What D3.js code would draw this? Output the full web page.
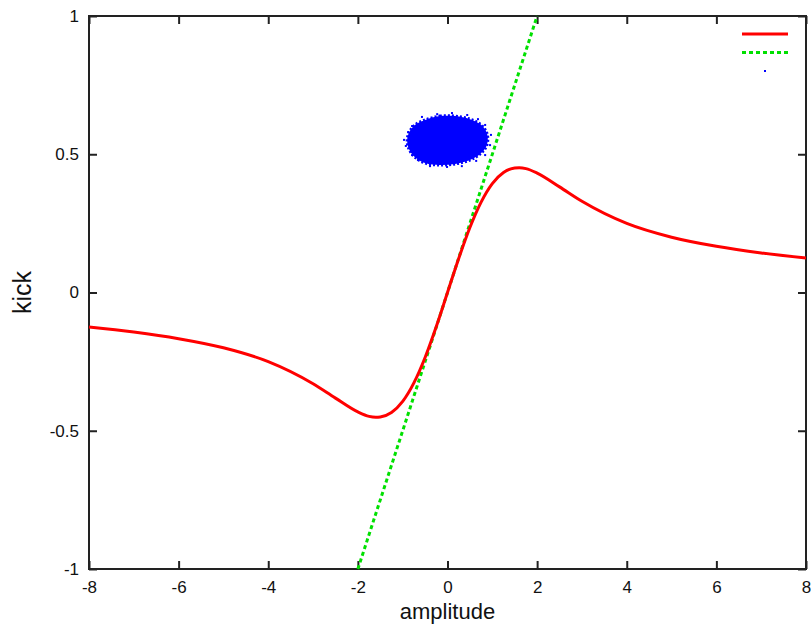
<!DOCTYPE html>
<html>
<head>
<meta charset="utf-8">
<script src="https://cdn.jsdelivr.net/npm/d3@7"></script>
<style>
  body { margin: 0; background: #fff; }
  text { font-family: "Liberation Sans", Arial, sans-serif; fill: #111; }
  .axis path { display: none; }
  .axis line { stroke: #222; stroke-width: 2; }
</style>
</head>
<body>
<div id="chart"></div>
<script>
// values
var xTicks = [-8, -6, -4, -2, 0, 2, 4, 6, 8];
var yTicks = [-1, -0.5, 0, 0.5, 1];

// red curve (kick vs amplitude)
var kickX = [-8, -7, -6, -5, -4, -3, -2.5, -2, -1.75, -1.6, -1.5, -1.25, -1, -0.75, -0.5, -0.25, 0,
             0.25, 0.5, 0.75, 1, 1.25, 1.5, 1.6, 1.75, 2, 2.5, 3, 4, 5, 6, 7, 8];
var kickY = [-0.125, -0.143, -0.167, -0.2, -0.25, -0.33, -0.382, -0.432, -0.448, -0.451, -0.45, -0.434, -0.394, -0.327, -0.235, -0.123, 0,
             0.123, 0.235, 0.327, 0.394, 0.434, 0.45, 0.451, 0.448, 0.432, 0.382, 0.33, 0.25, 0.2, 0.167, 0.143, 0.125];

// green dashed line (linear kick)
var linX = [-2, 2];
var linY = [-1, 1];

// blue particle cloud: outline of the dense core
var cloudX = [-0.50, -0.17, 0.17, 0.50, 0.73, 0.86, 0.90, 0.86, 0.73, 0.50, 0.17, -0.17, -0.50, -0.73, -0.86, -0.90, -0.84, -0.70];
var cloudY = [0.624, 0.638, 0.638, 0.627, 0.609, 0.584, 0.555, 0.526, 0.501, 0.479, 0.465, 0.461, 0.468, 0.490, 0.519, 0.552, 0.584, 0.609];
// stray particles around the edge
var strayX = [-0.97, -0.93, -0.79, -0.66, -0.39, -0.01, 0.32, 0.64, 0.84, 0.95, 0.97, 0.84, 0.68, 0.44, 0.10, -0.23, -0.57, -0.79, -0.88];
var strayY = [0.552, 0.530, 0.497, 0.479, 0.457, 0.454, 0.457, 0.476, 0.497, 0.533, 0.570, 0.606, 0.627, 0.642, 0.649, 0.645, 0.635, 0.602, 0.580];

var svg = d3.select("#chart").append("svg").attr("width", 811).attr("height", 626),
    margin = {top: 16, right: 5, bottom: 57, left: 89},
    width = +svg.attr("width") - margin.left - margin.right,
    height = +svg.attr("height") - margin.top - margin.bottom;

var x = d3.scaleLinear().domain([-8, 8]).range([0, width]);
var y = d3.scaleLinear().domain([-1, 1]).range([height, 0]);

var g = svg.append("g")
    .attr("transform", "translate(" + margin.left + "," + margin.top + ")");

var fmt = function(d) { return String(d); };

g.append("g")
    .attr("class", "axis")
    .attr("transform", "translate(0," + height + ")")
    .call(d3.axisBottom(x).tickValues(xTicks).tickFormat(fmt).tickSizeInner(-8).tickPadding(12))
    .selectAll("text").style("font-size", "17px");

g.append("g")
    .attr("class", "axis")
    .call(d3.axisTop(x).tickValues(xTicks).tickFormat("").tickSizeInner(-8));

g.append("g")
    .attr("class", "axis")
    .call(d3.axisLeft(y).tickValues(yTicks).tickFormat(fmt).tickSizeInner(-8).tickPadding(10))
    .selectAll("text").style("font-size", "17px");

g.append("g")
    .attr("class", "axis")
    .attr("transform", "translate(" + width + ",0)")
    .call(d3.axisRight(y).tickValues(yTicks).tickFormat("").tickSizeInner(-8));

g.append("rect")
    .attr("width", width)
    .attr("height", height)
    .attr("fill", "none")
    .attr("stroke", "#222")
    .attr("stroke-width", 2);

// axis titles
svg.append("text")
    .attr("x", margin.left + x(0))
    .attr("y", 619)
    .attr("text-anchor", "middle")
    .style("font-size", "22px")
    .text("amplitude");

svg.append("text")
    .attr("transform", "translate(31," + (margin.top + y(0)) + ") rotate(-90)")
    .attr("text-anchor", "middle")
    .style("font-size", "25px")
    .text("kick");

// cloud
var cloud = cloudX.map(function(d, i) { return [x(d), y(cloudY[i])]; });
g.append("path")
    .attr("d", d3.line().curve(d3.curveCatmullRomClosed)(cloud))
    .attr("fill", "#0000ff")
    .attr("stroke", "#0000ff")
    .attr("stroke-width", 3)
    .attr("stroke-dasharray", "2,2");

g.selectAll(".stray")
    .data(strayX)
  .enter().append("rect")
    .attr("class", "stray")
    .attr("x", function(d) { return x(d) - 1; })
    .attr("y", function(d, i) { return y(strayY[i]) - 1; })
    .attr("width", 2)
    .attr("height", 2)
    .attr("fill", "#0000ff");

// green dashed line
g.append("path")
    .datum(linX.map(function(d, i) { return [d, linY[i]]; }))
    .attr("fill", "none")
    .attr("stroke", "#00e000")
    .attr("stroke-width", 3)
    .attr("stroke-dasharray", "4,3")
    .attr("d", d3.line().x(function(d) { return x(d[0]); }).y(function(d) { return y(d[1]); }));

// red curve
g.append("path")
    .datum(kickX.map(function(d, i) { return [d, kickY[i]]; }))
    .attr("fill", "none")
    .attr("stroke", "#ff0000")
    .attr("stroke-width", 3)
    .attr("d", d3.line().curve(d3.curveMonotoneX).x(function(d) { return x(d[0]); }).y(function(d) { return y(d[1]); }));

// legend (no labels in the reference)
var lg = g.append("g").attr("transform", "translate(" + (width - 64) + ",18)");
lg.append("line").attr("x1", 0).attr("x2", 46).attr("y1", 0).attr("y2", 0)
    .attr("stroke", "#ff0000").attr("stroke-width", 3);
lg.append("line").attr("x1", 0).attr("x2", 46).attr("y1", 18.5).attr("y2", 18.5)
    .attr("stroke", "#00e000").attr("stroke-width", 3).attr("stroke-dasharray", "4,3");
lg.append("rect").attr("x", 22).attr("y", 36).attr("width", 2).attr("height", 2)
    .attr("fill", "#0000ff");
</script>
</body>
</html>
